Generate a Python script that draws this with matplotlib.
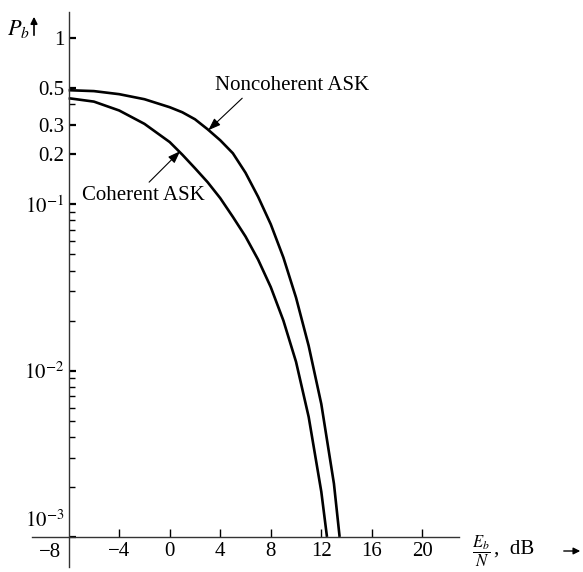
import numpy as np
import matplotlib
matplotlib.use('Agg')
import matplotlib.pyplot as plt
import matplotlib.transforms as mtransforms
from matplotlib.patches import FancyArrowPatch
from matplotlib.ticker import FixedLocator, NullFormatter

plt.rcParams['font.family'] = ['Liberation Serif', 'DejaVu Serif']
plt.rcParams['mathtext.fontset'] = 'stix'
plt.rcParams['font.size'] = 15

# Eb/N in dB vs bit error probability
snr_coh = [-8, -6, -4, -2, 0, 1, 2, 3, 4, 5, 6, 7, 8, 9, 10, 11, 12, 12.45]
pb_coh = [0.435, 0.415, 0.367, 0.305, 0.237, 0.199, 0.165, 0.136, 0.109, 0.0841,
          0.0641, 0.0465, 0.0318, 0.02, 0.0113, 0.00527, 0.00187, 0.001]

snr_noncoh = [-8, -6, -4, -2, 0, 1, 2, 3, 4, 5, 6, 7, 8, 9, 10, 11, 12, 13, 13.45]
pb_noncoh = [0.486, 0.48, 0.46, 0.429, 0.384, 0.358, 0.325, 0.283, 0.243, 0.203,
             0.155, 0.111, 0.0759, 0.0479, 0.0275, 0.0141, 0.0063, 0.00209, 0.001]

xticks = [-4, 0, 4, 8, 12, 16, 20]
xticklabels = ['\u22124', '0', '4', '8', '12', '16', '20']
yticks = [1e-3, 1e-2, 1e-1, 0.2, 0.3, 0.5, 1]
yticklabels = ['$10^{-3}$', '$10^{-2}$', '$10^{-1}$', '0.2', '0.3', '0.5', '1']
yminor = [k * 1e-3 for k in range(2, 10)] + [k * 1e-2 for k in range(2, 10)] + [0.4]

W, H = 583, 572
fig = plt.figure(figsize=(W / 100, H / 100), dpi=100)
ax = fig.add_axes([32 / W, 5 / H, 427 / W, 555 / H])

ax.plot(snr_noncoh, pb_noncoh, color='black', lw=1.9, solid_capstyle='butt')
ax.plot(snr_coh, pb_coh, color='black', lw=1.9, solid_capstyle='butt')

ax.set_yscale('log')
ax.set_xlim(-10.9, 22.9)
ax.set_ylim(10 ** -3.181, 10 ** 0.157)

for s in ['top', 'right']:
    ax.spines[s].set_visible(False)
ax.spines['left'].set_position(('data', -8))
ax.spines['bottom'].set_position(('data', 1e-3))
for s in ['left', 'bottom']:
    ax.spines[s].set_color('#333333')
    ax.spines[s].set_linewidth(1.0)

ax.set_xticks(xticks)
ax.set_xticklabels(xticklabels)
ax.yaxis.set_major_locator(FixedLocator(yticks))
ax.set_yticklabels(yticklabels)
ax.yaxis.set_minor_locator(FixedLocator(yminor))
ax.yaxis.set_minor_formatter(NullFormatter())
ax.tick_params(axis='x', direction='in', length=6, width=1.0, pad=4, labelsize=15)
ax.tick_params(axis='y', which='major', direction='in', length=5, width=1.6, pad=3, labelsize=15)
ax.tick_params(axis='y', which='minor', direction='in', length=4, width=1.0)

# 10^-3 label sits above the horizontal axis
lab = ax.get_yticklabels()[0]
lab.set_verticalalignment('bottom')
lab.set_transform(lab.get_transform() + mtransforms.ScaledTranslation(0, 4 / 72, fig.dpi_scale_trans))

# -8 label sits left of the vertical axis
ax.text(-8.6, 10 ** -3.035, '\u22128', ha='right', va='top', fontsize=15)

# curve labels with arrows
ax.text(3.6, 0.521, 'Noncoherent ASK', ha='left', va='center', fontsize=15)
ax.annotate('', xy=(3.05, 0.279), xytext=(5.74, 0.435),
            arrowprops=dict(arrowstyle='-|>,head_length=0.5,head_width=0.18',
                            color='black', lw=0.8, shrinkA=0, shrinkB=0))
ax.text(-6.93, 0.113, 'Coherent ASK', ha='left', va='center', fontsize=15)
ax.annotate('', xy=(0.83, 0.209), xytext=(-1.63, 0.136),
            arrowprops=dict(arrowstyle='-|>,head_length=0.5,head_width=0.18',
                            color='black', lw=0.8, shrinkA=0, shrinkB=0))

# axis titles
fig.text(7 / W, 1 - 29 / H, '$P_b$', ha='left', va='center', fontsize=16)
fig.add_artist(FancyArrowPatch(
    (34 / W, 1 - 38 / H), (34 / W, 1 - 14 / H), transform=fig.transFigure,
    arrowstyle='-|>,head_length=4,head_width=2', color='black', lw=1.2))
fig.text(481 / W, 1 - 551 / H, r'$\dfrac{E_b}{N}$', ha='center', va='center', fontsize=12)
fig.text(494 / W, 1 - 549 / H, ',  dB', ha='left', va='center', fontsize=15)
fig.add_artist(FancyArrowPatch(
    (561 / W, 1 - 551 / H), (583 / W, 1 - 551 / H), transform=fig.transFigure,
    arrowstyle='-|>,head_length=4,head_width=2', color='black', lw=1.0))

fig.savefig('out.png', dpi=100)
